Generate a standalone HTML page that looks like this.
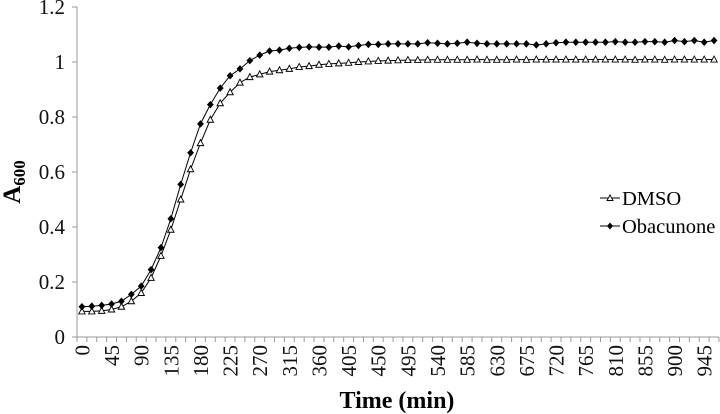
<!DOCTYPE html>
<html><head><meta charset="utf-8"><style>
body{margin:0;background:#fff}
svg{display:block;font-family:"Liberation Serif",serif}
</style></head><body>
<svg id="chart" width="720" height="414" viewBox="0 0 720 414">
<g id="axes"></g><g id="series"></g>
<text x="397" y="408" font-size="24" font-weight="bold" text-anchor="middle">Time (min)</text>
<text transform="translate(20,182) rotate(-90)" font-size="25" font-weight="bold" text-anchor="middle">A<tspan font-size="17" dy="5">600</tspan></text>
<g>
<g>
<line x1="600" y1="198" x2="620" y2="198" stroke="#000" stroke-width="1"/>
<path d="M610,195 L613,200.5 L607,200.5 Z" fill="#fff" stroke="#000" stroke-width="0.9"/>
<text x="622" y="205" font-size="20.5">DMSO</text></g>
<g>
<line x1="600" y1="226" x2="620" y2="226" stroke="#000" stroke-width="1"/>
<path d="M610,222.5 L613,226 L610,229.5 L607,226 Z" fill="#000"/>
<text x="622" y="233" font-size="20.5">Obacunone</text></g>
</g>
</svg>
<script>
const categories = [];
for (let t = 0; t <= 960; t += 15) categories.push(t);
const dmso = [0.093,0.093,0.095,0.1,0.11,0.13,0.16,0.215,0.295,0.39,0.5,0.61,0.705,0.79,0.85,0.89,0.925,0.945,0.955,0.965,0.97,0.975,0.982,0.985,0.99,0.993,0.995,0.997,1.0,1.002,1.004,1.005,1.006,1.007,1.007,1.008,1.008,1.008,1.008,1.008,1.009,1.008,1.008,1.008,1.009,1.008,1.009,1.009,1.009,1.009,1.009,1.009,1.009,1.009,1.009,1.009,1.008,1.009,1.009,1.008,1.009,1.009,1.009,1.009,1.009];
const obacunone = [0.11,0.112,0.115,0.12,0.13,0.155,0.185,0.245,0.325,0.43,0.555,0.67,0.775,0.845,0.905,0.95,0.975,1.005,1.025,1.04,1.043,1.05,1.053,1.055,1.054,1.054,1.058,1.055,1.06,1.064,1.064,1.066,1.066,1.066,1.066,1.07,1.068,1.066,1.068,1.072,1.068,1.066,1.066,1.066,1.066,1.066,1.062,1.066,1.07,1.072,1.072,1.072,1.072,1.072,1.074,1.072,1.072,1.074,1.074,1.072,1.078,1.074,1.078,1.072,1.078];
const yTicks = [0,0.2,0.4,0.6,0.8,1,1.2];
const yTickLabels = ["0","0.2","0.4","0.6","0.8","1","1.2"];
const X0 = 77, X1 = 719, Y0 = 337, Y1 = 7;
const step = (X1 - X0) / categories.length;
const xs = i => X0 + step * (i + 0.5);
const ys = v => Y0 - (v / 1.2) * (Y0 - Y1);
const NS = "http://www.w3.org/2000/svg";
function mk(tag, attrs, parent) { const e = document.createElementNS(NS, tag); for (const k in attrs) e.setAttribute(k, attrs[k]); parent.appendChild(e); return e; }
const axes = document.getElementById('axes');
const yAxis = mk('line', {x1: X0, y1: Y1, x2: X0, y2: Y0, stroke: '#999', 'stroke-width': 1}, axes);


const xAxis = mk('line', {x1: X0, y1: Y0, x2: X1, y2: Y0, stroke: '#999', 'stroke-width': 1}, axes);


yTicks.forEach((v, i) => {
  mk('line', {x1: X0 - 5, y1: ys(v), x2: X0, y2: ys(v), stroke: '#999'}, axes);
  const t = mk('text', {x: X0 - 12, y: ys(v) + 7, 'font-size': 21, 'text-anchor': 'end', fill: '#111'}, axes);
  t.textContent = yTickLabels[i];
  
  
});
for (let i = 0; i <= categories.length; i++) {
  const x = X0 + step * i;
  mk('line', {x1: x, y1: Y0, x2: x, y2: Y0 + 5, stroke: '#999'}, axes);
}
categories.forEach((c, i) => {
  if (i % 3 !== 0) return;
  const x = xs(i);
  const t = mk('text', {transform: `translate(${x + 7.5},345) rotate(-90)`, 'font-size': 21, 'text-anchor': 'end', fill: '#111'}, axes);
  t.textContent = c;
  
  
});
const ser = document.getElementById('series');
function draw(vals, name, marker) {
  const g = mk('g', {}, ser);
  
  
  mk('polyline', {points: vals.map((v, i) => xs(i) + ',' + ys(v)).join(' '), fill: 'none', stroke: '#000', 'stroke-width': 1}, g);
  vals.forEach((v, i) => {
    const x = xs(i), y = ys(v);
    let m;
    if (marker === 'tri') m = mk('path', {d: `M${x},${y - 3.5} L${x + 3.2},${y + 2.5} L${x - 3.2},${y + 2.5} Z`, fill: '#fff', stroke: '#000', 'stroke-width': 0.9}, g);
    else m = mk('path', {d: `M${x},${y - 3.8} L${x + 3.4},${y} L${x},${y + 3.8} L${x - 3.4},${y} Z`, fill: '#000'}, g);
    
    
  });
}
draw(dmso, 'dmso-series', 'tri');
draw(obacunone, 'obacunone-series', 'dia');
</script>
</body></html>
